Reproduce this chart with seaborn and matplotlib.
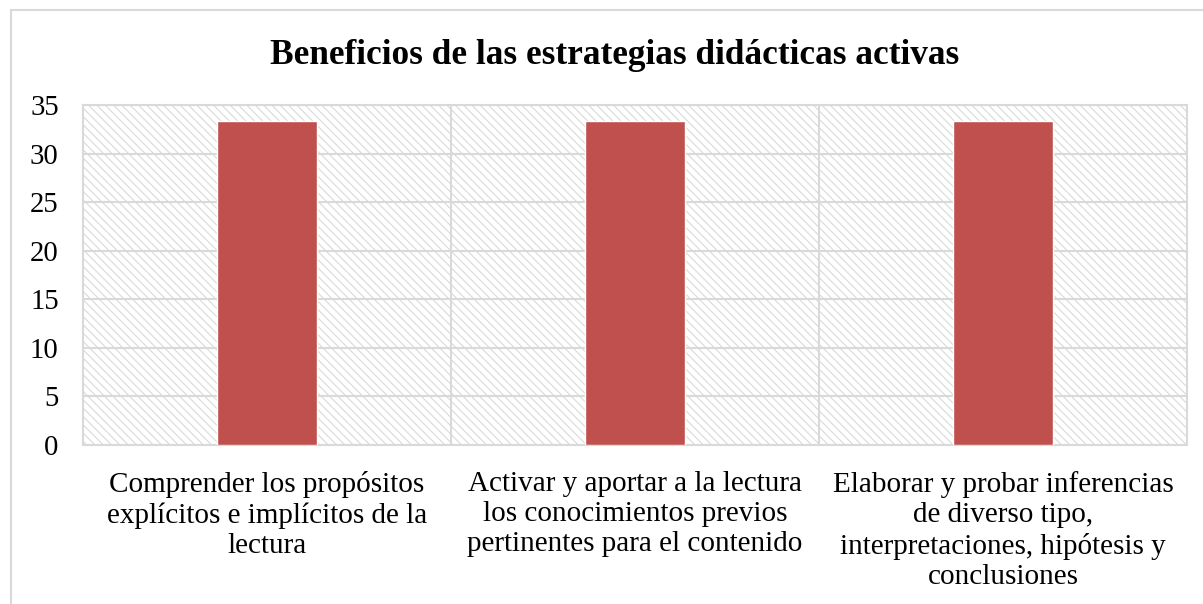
import matplotlib
matplotlib.use("Agg")
import matplotlib.pyplot as plt
import seaborn as sns
import pandas as pd
from matplotlib.patches import Rectangle

categories = [
    "Comprender los propósitos\nexplícitos e implícitos de la\nlectura",
    "Activar y aportar a la lectura\nlos conocimientos previos\npertinentes para el contenido",
    "Elaborar y probar inferencias\nde diverso tipo,\ninterpretaciones, hipótesis y\nconclusiones",
]
values = [33.33, 33.33, 33.33]
yticks = [0, 5, 10, 15, 20, 25, 30, 35]
title = "Beneficios de las estrategias didácticas activas"

sns.set_theme(style="white")
plt.rcParams['font.family'] = ['Liberation Serif', 'DejaVu Serif']
plt.rcParams['hatch.linewidth'] = 0.8
plt.rcParams['hatch.color'] = '#d9d9d9'
plt.rcParams['text.color'] = 'black'
plt.rcParams['xtick.color'] = 'black'
plt.rcParams['ytick.color'] = 'black'

W, H = 1203, 604
fig = plt.figure(figsize=(W / 100, H / 100), dpi=100)
ax = fig.add_axes([83 / W, 1 - 445 / H, (1187 - 83) / W, (445 - 105) / H])

df = pd.DataFrame({"cat": categories, "val": values})
sns.barplot(data=df, x="cat", y="val", color="#C0504D", saturation=1,
            width=0.272, ax=ax, zorder=3)

ax.patch.set_facecolor('white')
ax.patch.set_hatch('\\\\\\\\')
ax.patch.set_edgecolor('#d9d9d9')

ax.set_ylim(0, 35)
ax.set_xlim(-0.5, 2.5)
ax.set_yticks(yticks)
ax.set_yticklabels([str(t) for t in yticks], fontsize=20.7, color='black')
ax.set_xlabel("")
ax.set_ylabel("")
ax.tick_params(axis='x', labelsize=21, pad=19, length=0, labelcolor='black')
ax.tick_params(axis='y', pad=17.5, length=0, labelcolor='black')
for lbl in ax.get_xticklabels():
    lbl.set_linespacing(1.2)

ax.grid(False)
for y in yticks:
    ax.axhline(y, color='#d9d9d9', lw=1.5, zorder=1)
for x in [0.5, 1.5]:
    ax.axvline(x, color='#d9d9d9', lw=1.5, zorder=1)
for s in ax.spines.values():
    s.set_color('#d9d9d9')
    s.set_linewidth(1.5)

fig.text(615 / W, 1 - 56 / H, title, ha='center', va='center',
         fontsize=25.4, fontweight='bold', color='black')

fig.patches.append(Rectangle((11 / W, -0.1), 1.1, 1 - 10 / H + 0.1,
                             transform=fig.transFigure, fill=False,
                             edgecolor='#d9d9d9', lw=1.5))

fig.savefig("out.png", dpi=100)
